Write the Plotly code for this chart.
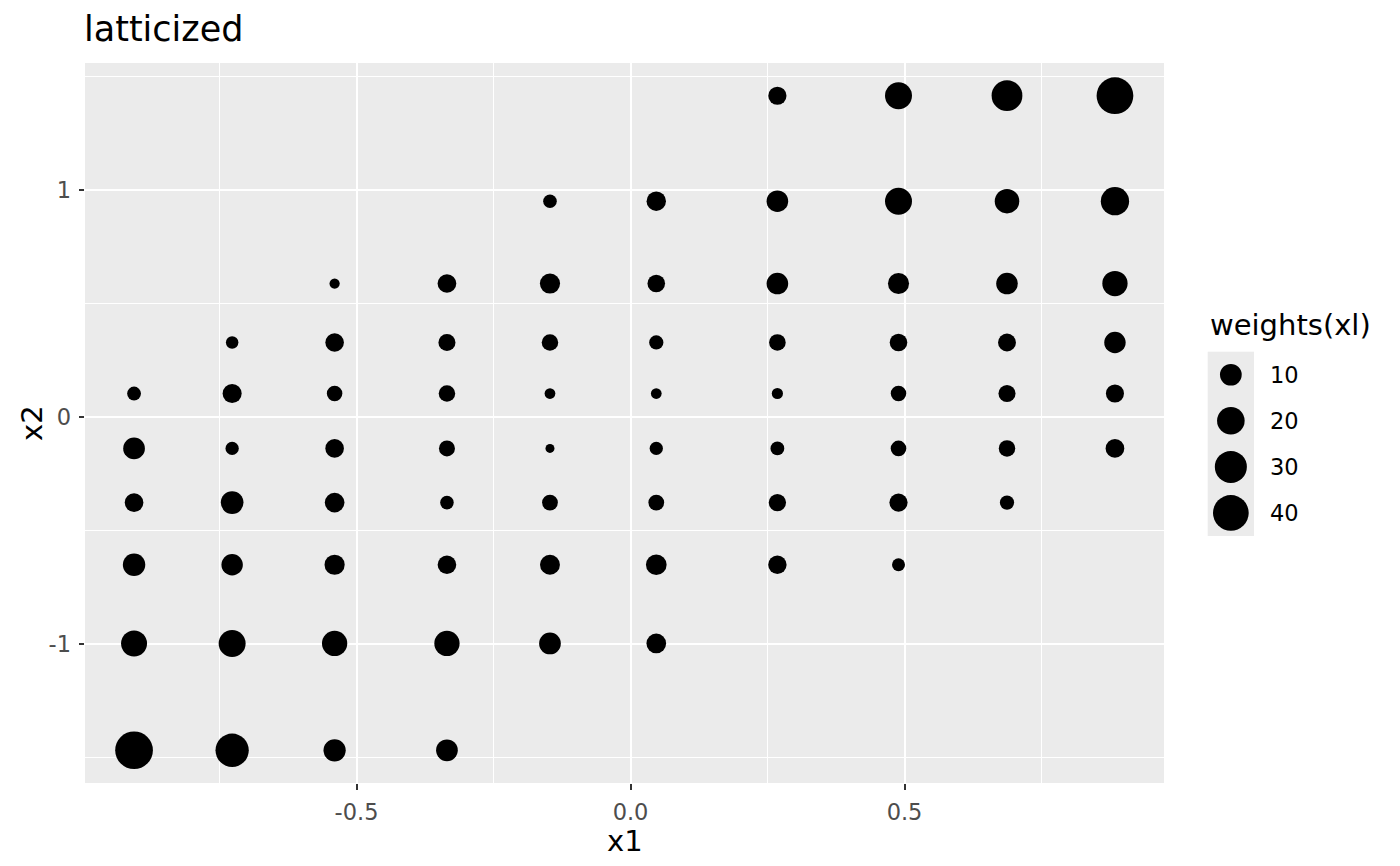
import numpy as np
import plotly.graph_objects as go

# ---------------- data ----------------
chart_title = "latticized"
x_title = "x1"
y_title = "x2"
legend_title = "weights(xl)"

# lattice positions (x1 per column, x2 per row)
x1_levels = [-0.906, -0.727, -0.540, -0.335, -0.147, 0.047, 0.268, 0.489, 0.687, 0.884]
x2_levels = [1.416, 0.951, 0.588, 0.328, 0.103, -0.139, -0.378, -0.652, -0.999, -1.470]

# weights(xl) for each x2 row, one value per x1 column (None = no point)
w_row_1416 = [None, None, None, None, None, None, 5.8, 18.8, 27.0, 43.0]
w_row_0951 = [None, None, None, None, 2.35, 7.1, 9.8, 18.8, 14.3, 21.5]
w_row_0588 = [None, None, 1.28, 6.3, 8.0, 5.2, 9.8, 9.2, 9.8, 15.6]
w_row_0328 = [None, 1.87, 6.2, 4.7, 4.26, 2.7, 4.35, 5.2, 5.5, 9.6]
w_row_0103 = [2.45, 6.7, 3.5, 4.26, 1.36, 1.36, 1.46, 3.5, 4.77, 5.7]
w_row_m0139 = [10.0, 2.2, 6.2, 3.87, 1.2, 2.2, 2.45, 3.57, 4.26, 6.3]
w_row_m0378 = [6.3, 11.4, 7.4, 2.35, 3.7, 3.7, 4.95, 5.8, 2.7, None]
w_row_m0652 = [11.0, 9.6, 8.0, 6.2, 7.66, 8.6, 6.0, 2.07, None, None]
w_row_m0999 = [16.9, 18.8, 15.6, 15.6, 10.0, 7.4, None, None, None, None]
w_row_m1470 = [46.0, 33.3, 10.7, 10.0, None, None, None, None, None, None]

weight_rows = [w_row_1416, w_row_0951, w_row_0588, w_row_0328, w_row_0103,
               w_row_m0139, w_row_m0378, w_row_m0652, w_row_m0999, w_row_m1470]

legend_breaks = [10, 20, 30, 40]

x1_tickvals = [-0.5, 0.0, 0.5]
x1_ticktext = ["-0.5", "0.0", "0.5"]
x1_minorvals = [-0.75, -0.25, 0.25, 0.75]
x2_tickvals = [-1, 0, 1]
x2_ticktext = ["-1", "0", "1"]
x2_minorvals = [-1.5, -0.5, 0.5, 1.5]

# ---------------- build long data ----------------
xs, ys, ws = [], [], []
for yv, row in zip(x2_levels, weight_rows):
    for xv, wv in zip(x1_levels, row):
        if wv is not None:
            xs.append(xv)
            ys.append(yv)
            ws.append(wv)
xs = np.array(xs); ys = np.array(ys); ws = np.array(ws)

# area-style size scale (like ggplot scale_size)
W_MIN, W_MAX = ws.min(), ws.max()
D_MIN, D_MAX = 9.0, 37.7


def diam(w):
    w = np.asarray(w, dtype=float)
    return D_MIN + (D_MAX - D_MIN) * np.sqrt((w - W_MIN) / (W_MAX - W_MIN))


def expand(vals, mult=0.05):
    lo, hi = float(np.min(vals)), float(np.max(vals))
    span = hi - lo
    return [lo - mult * span, hi + mult * span]


W, H = 1400, 866
FONT = "DejaVu Sans"
PANEL = dict(l=85, r=1164, t=63, b=783)
TICK_PX = 22.5
TITLE_PX = 29
MAIN_TITLE_PX = 35

fig = go.Figure()
fig.add_trace(go.Scatter(
    x=xs, y=ys, mode="markers", opacity=1,
    marker=dict(size=diam(ws), sizemode="diameter", color="#000000", opacity=1,
                line=dict(width=0)),
    showlegend=False, hoverinfo="x+y+text", text=[f"{v:g}" for v in ws],
))

# legend keys drawn on a small subplot using the same size scale
key_pos = [i + 0.5 for i in range(len(legend_breaks))]
fig.add_trace(go.Scatter(
    x=[0.5] * len(legend_breaks), y=key_pos, mode="markers", opacity=1,
    marker=dict(size=diam(legend_breaks), sizemode="diameter", color="#000000", opacity=1,
                line=dict(width=0)),
    xaxis="x2", yaxis="y2", showlegend=False, hoverinfo="skip", cliponaxis=False,
))

grid_major = dict(showgrid=True, gridcolor="white", gridwidth=2.2,
                  zeroline=False, showline=False,
                  ticks="outside", ticklen=5.5, tickwidth=2, tickcolor="#333333",
                  tickfont=dict(family=FONT, size=TICK_PX, color="#4D4D4D"),
                  automargin=False, fixedrange=True)

fig.update_layout(
    width=W, height=H,
    margin=dict(l=0, r=0, t=0, b=0),
    paper_bgcolor="white",
    plot_bgcolor="#EBEBEB",
    template="none",
    showlegend=False,
    title=dict(text=chart_title, font=dict(family=FONT, size=MAIN_TITLE_PX, color="black"),
               x=84 / W, xref="container", xanchor="left",
               y=1 - 41 / H, yref="container", yanchor="bottom", pad=dict(t=0, b=0, l=0, r=0)),
    xaxis=dict(domain=[PANEL["l"] / W, PANEL["r"] / W], range=expand(xs),
               tickmode="array", tickvals=x1_tickvals, ticktext=x1_ticktext,
               ticklabelstandoff=3,
               minor=dict(tickmode="array", tickvals=x1_minorvals, showgrid=True,
                          gridcolor="white", gridwidth=1.1, ticks=""),
               **grid_major),
    yaxis=dict(domain=[1 - PANEL["b"] / H, 1 - PANEL["t"] / H], range=expand(ys),
               tickmode="array", tickvals=x2_tickvals, ticktext=x2_ticktext,
               ticklabelstandoff=3,
               minor=dict(tickmode="array", tickvals=x2_minorvals, showgrid=True,
                          gridcolor="white", gridwidth=1.1, ticks=""),
               **grid_major),
    xaxis2=dict(domain=[1207.7 / W, 1254 / W], range=[0, 1], anchor="y2",
                showgrid=False, zeroline=False, showticklabels=False, ticks="",
                fixedrange=True, automargin=False),
    yaxis2=dict(domain=[1 - 536 / H, 1 - 351.7 / H], range=[len(legend_breaks), 0], anchor="x2",
                showgrid=False, zeroline=False, showticklabels=False, ticks="",
                fixedrange=True, automargin=False),
)

annotations = []
# axis titles
annotations.append(dict(text=x_title, x=(PANEL["l"] + PANEL["r"]) / 2 / W, y=1 - 841 / H,
                        xref="paper", yref="paper", xanchor="center", yanchor="middle",
                        borderpad=0,
                        showarrow=False, font=dict(family=FONT, size=TITLE_PX, color="black")))
annotations.append(dict(text=y_title, x=32 / W, y=1 - (PANEL["t"] + PANEL["b"]) / 2 / H,
                        xref="paper", yref="paper", xanchor="center", yanchor="middle",
                        textangle=-90, showarrow=False,
                        font=dict(family=FONT, size=TITLE_PX, color="black")))
# legend title
annotations.append(dict(text=legend_title, x=1208 / W, y=1 - 325 / H,
                        xref="paper", yref="paper", xanchor="left", yanchor="middle",
                        showarrow=False, font=dict(family=FONT, size=TITLE_PX, color="black")))
# legend labels
for b, yp in zip(legend_breaks, key_pos):
    annotations.append(dict(text=str(b), x=1267.5 / W, y=yp, xref="paper", yref="y2",
                            xanchor="left", yanchor="middle", showarrow=False,
                            font=dict(family=FONT, size=TICK_PX, color="black")))
fig.update_layout(annotations=annotations)

fig.write_html("out.html", config={"displayModeBar": False},
               post_script="document.body.style.margin='0';document.body.style.padding='0';")
